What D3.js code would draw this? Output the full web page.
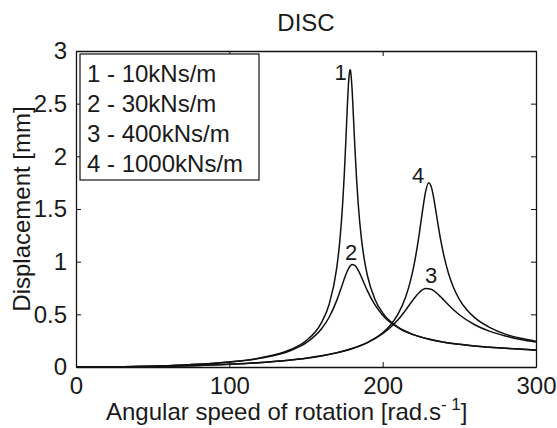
<!DOCTYPE html>
<html>
<head>
<meta charset="utf-8">
<script src="https://cdn.jsdelivr.net/npm/d3@7"></script>
<style>
  body { margin: 0; background: #fff; }
  svg text { font-family: "Liberation Sans", Arial, sans-serif; fill: #1a1a1a; }
</style>
</head>
<body>
<div id="chart"></div>
<script>
// Values (speed in rad/s, displacement in mm)
const speed1 = [0,20,40,60,80,100,120,140,150,160,165,170,172,174,175,176,177,178,178.7,179,180,181,182,183,184,186,188,190,195,200,210,220,230,240,250,260,270,280,290,300];
const disp1 = [0,0.001,0.006,0.013,0.026,0.048,0.086,0.166,0.249,0.419,0.591,0.937,1.188,1.573,1.836,2.151,2.488,2.751,2.823,2.815,2.649,2.356,2.049,1.781,1.560,1.237,1.022,0.871,0.641,0.514,0.378,0.307,0.264,0.235,0.215,0.199,0.187,0.177,0.169,0.160];

const speed2 = [0,20,40,60,80,100,120,140,150,160,165,170,172,174,176,178,180,182,184,186,188,190,195,200,210,220,230,240,250,260,270,280,290,300];
const disp2 = [0,0.001,0.005,0.013,0.026,0.047,0.083,0.157,0.229,0.360,0.470,0.630,0.711,0.796,0.878,0.942,0.972,0.963,0.920,0.859,0.791,0.725,0.589,0.492,0.374,0.307,0.265,0.236,0.215,0.200,0.187,0.178,0.170,0.162];

const speed3 = [0,20,40,60,80,100,120,140,150,160,170,180,190,200,205,210,215,220,224,228,232,236,240,245,250,260,270,280,290,300];
const disp3 = [0,0.001,0.003,0.008,0.015,0.026,0.042,0.067,0.084,0.106,0.136,0.176,0.232,0.317,0.375,0.448,0.540,0.641,0.710,0.745,0.736,0.692,0.634,0.560,0.496,0.401,0.338,0.295,0.262,0.238];

const speed4 = [0,20,40,60,80,100,120,140,150,160,170,180,190,200,205,210,215,218,220,222,224,226,228,230,232,234,236,238,240,243,246,250,255,260,270,280,290,300];
const disp4 = [0,0.001,0.003,0.008,0.015,0.025,0.041,0.066,0.083,0.105,0.134,0.174,0.232,0.325,0.397,0.502,0.664,0.810,0.936,1.092,1.279,1.484,1.665,1.750,1.696,1.544,1.362,1.194,1.052,0.885,0.762,0.643,0.541,0.469,0.374,0.312,0.272,0.245];

const legendItems = ['1 - 10kNs/m', '2 - 30kNs/m', '3 - 400kNs/m', '4 - 1000kNs/m'];
const xTicks = [0, 100, 200, 300];
const yTicks = [0, 0.5, 1, 1.5, 2, 2.5, 3];

// curve number labels: [label, speed, displacement at baseline]
const curveLabels = [['1', 172.5, 2.72], ['2', 179.4, 1.016], ['3', 231.6, 0.80], ['4', 223.1, 1.75]];

const width = 557, height = 428;
const margin = { left: 76, right: 21, top: 51, bottom: 61 };

const svg = d3.select('#chart').append('svg')
  .attr('width', width)
  .attr('height', height);

svg.append('rect').attr('width', width).attr('height', height).attr('fill', '#fff');

const x = d3.scaleLinear().domain([0, 300]).range([margin.left, width - margin.right]);
const y = d3.scaleLinear().domain([0, 3]).range([height - margin.bottom, margin.top]);

// curves
const line = d3.line()
  .x(d => x(d[0]))
  .y(d => y(d[1]))
  .curve(d3.curveMonotoneX);

const series = [[speed1, disp1], [speed2, disp2], [speed3, disp3], [speed4, disp4]];
series.forEach(([s, v]) => {
  svg.append('path')
    .datum(s.map((d, i) => [d, v[i]]))
    .attr('d', line)
    .attr('fill', 'none')
    .attr('stroke', '#111')
    .attr('stroke-width', 1.5);
});

// axes, ticks pointing inward (box style)
const tickLen = -5;
svg.append('g')
  .attr('transform', `translate(0,${y(0)})`)
  .call(d3.axisBottom(x).tickValues(xTicks).tickSizeInner(tickLen).tickSizeOuter(0).tickPadding(10));
svg.append('g')
  .attr('transform', `translate(0,${y(3)})`)
  .call(d3.axisTop(x).tickValues(xTicks).tickSizeInner(tickLen).tickSizeOuter(0).tickFormat(''));
svg.append('g')
  .attr('transform', `translate(${x(0)},0)`)
  .call(d3.axisLeft(y).tickValues(yTicks).tickSizeInner(tickLen).tickSizeOuter(0).tickPadding(9).tickFormat(d3.format('')));
svg.append('g')
  .attr('transform', `translate(${x(300)},0)`)
  .call(d3.axisRight(y).tickValues(yTicks).tickSizeInner(tickLen).tickSizeOuter(0).tickFormat(''));

svg.selectAll('.domain').attr('stroke', '#111').attr('stroke-width', 1.3);
svg.selectAll('.tick line').attr('stroke', '#111');
svg.selectAll('.tick text').attr('font-size', 24).attr('font-family', '"Liberation Sans", Arial, sans-serif').attr('fill', '#1a1a1a');

// curve number labels
svg.selectAll('.curve-label')
  .data(curveLabels)
  .enter().append('text')
  .attr('x', d => x(d[1]))
  .attr('y', d => y(d[2]))
  .attr('text-anchor', 'middle')
  .attr('font-size', 22)
  .text(d => d[0]);

// legend
const legend = svg.append('g');
legend.append('rect')
  .attr('x', 80).attr('y', 54)
  .attr('width', 179).attr('height', 126)
  .attr('fill', '#fff')
  .attr('stroke', '#111')
  .attr('stroke-width', 1.2);
legendItems.forEach((t, i) => {
  legend.append('text')
    .attr('x', 87)
    .attr('y', 82 + i * 30)
    .attr('font-size', 24)
    .text(t);
});

// title and axis labels
svg.append('text')
  .attr('x', (x(0) + x(300)) / 2)
  .attr('y', 31)
  .attr('text-anchor', 'middle')
  .attr('font-size', 24)
  .text('DISC');

const xl = svg.append('text')
  .attr('x', 106)
  .attr('y', 420)
  .attr('font-size', 24);
xl.append('tspan').text('Angular speed of rotation [rad.s');
xl.append('tspan').attr('dy', -10).attr('font-size', 17).text('- 1');
xl.append('tspan').attr('dy', 10).text(']');

svg.append('text')
  .attr('transform', `translate(30,${(y(0) + y(3)) / 2}) rotate(-90)`)
  .attr('text-anchor', 'middle')
  .attr('font-size', 24)
  .text('Displacement [mm]');
</script>
</body>
</html>
